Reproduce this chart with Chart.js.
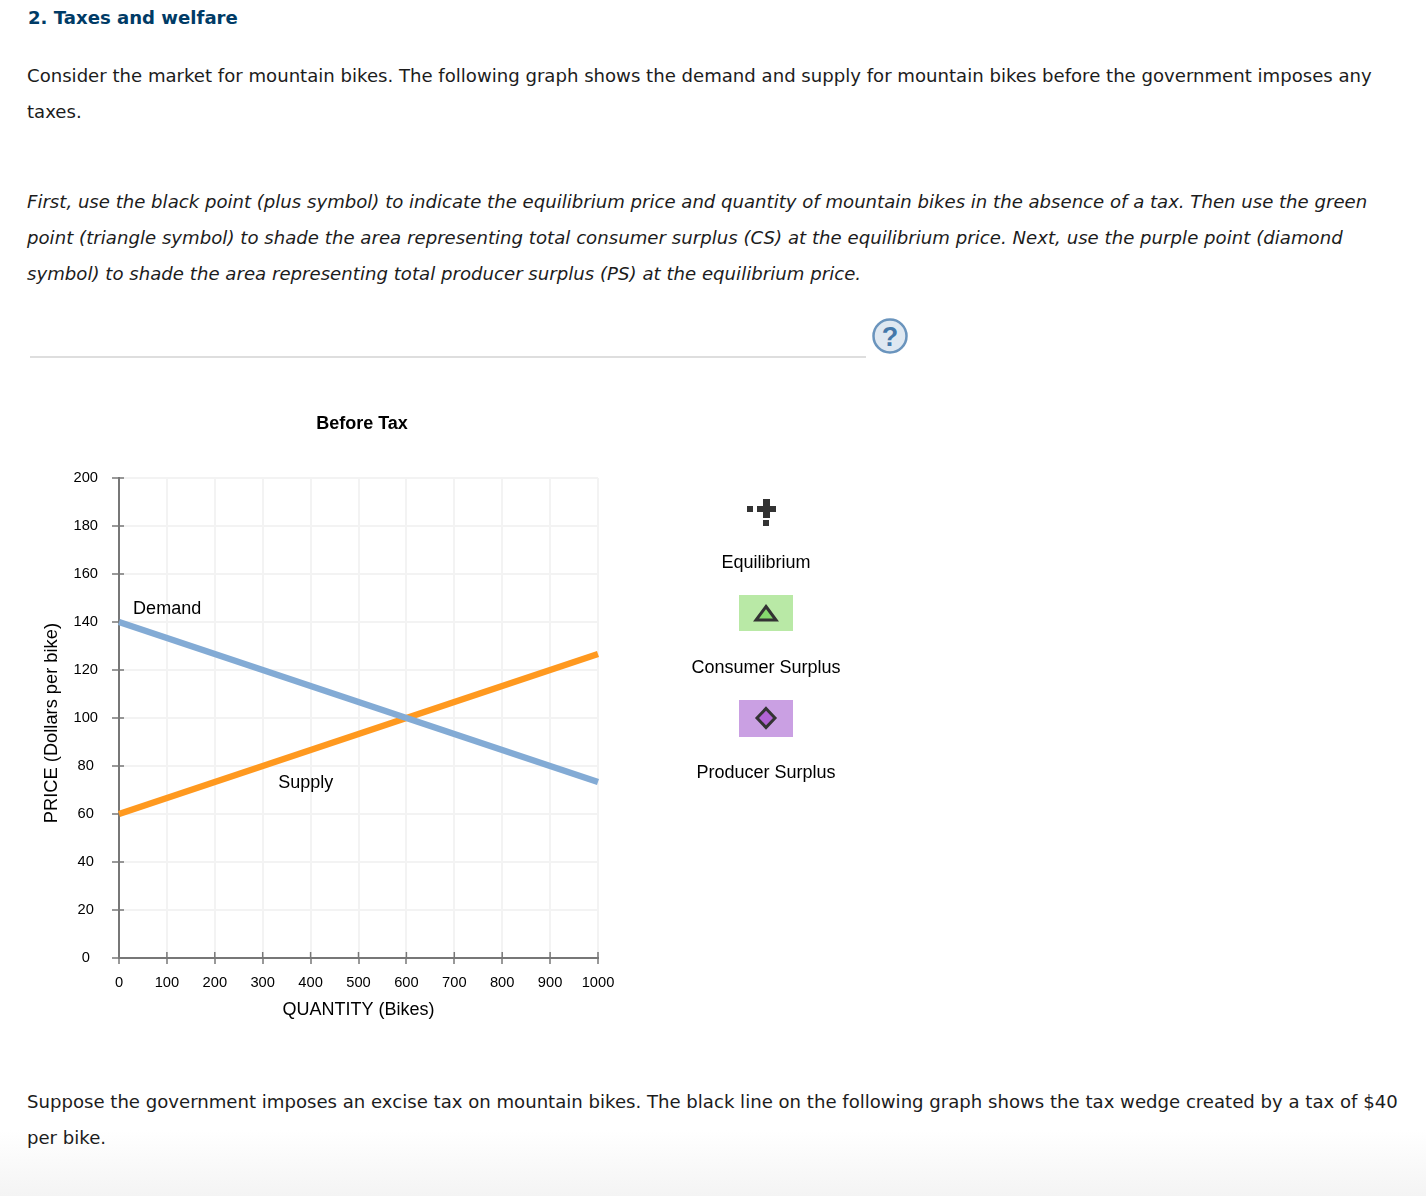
<!DOCTYPE html>
<html>
<head>
<meta charset="utf-8">
<title>Taxes and welfare</title>
<script src="https://cdn.jsdelivr.net/npm/chart.js@4"></script>
<style>
    html, body { margin: 0; padding: 0; background: #fff; }
    body { position: relative; width: 1426px; height: 1196px; overflow: hidden; }
    .fade { position: absolute; left: 0; top: 1130px; width: 1426px; height: 66px; background: linear-gradient(#fff, #f4f4f4); }
    .line { position: absolute; left: 27px; white-space: nowrap; font: 18.1px "DejaVu Sans", sans-serif; color: #1c1c1c; }
    .line.it { font-style: italic; }
    .head { position: absolute; left: 28px; top: 7px; font: bold 18.1px "DejaVu Sans", sans-serif; color: #003b66; white-space: nowrap; }
    .rule { position: absolute; left: 30px; top: 356px; width: 836px; height: 2px; background: #dedede; }
    .pal { position: absolute; left: 666px; width: 200px; text-align: center; font: 18px "Liberation Sans", sans-serif; color: #000; }
    svg { position: absolute; }
    #chartBox { position: absolute; left: 0; top: 400px; width: 724px; height: 640px; }
</style>
</head>
<body>
<div class="fade"></div>
<div class="head">2. Taxes and welfare</div>
<div class="line" style="top:65px">Consider the market for mountain bikes. The following graph shows the demand and supply for mountain bikes before the government imposes any</div>
<div class="line" style="top:101px">taxes.</div>
<div class="line it" style="top:191px">First, use the black point (plus symbol) to indicate the equilibrium price and quantity of mountain bikes in the absence of a tax. Then use the green</div>
<div class="line it" style="top:227px;letter-spacing:0.028px">point (triangle symbol) to shade the area representing total consumer surplus (CS) at the equilibrium price. Next, use the purple point (diamond</div>
<div class="line it" style="top:263px;letter-spacing:0.022px">symbol) to shade the area representing total producer surplus (PS) at the equilibrium price.</div>
<div class="rule"></div>
<svg style="left:870px;top:316px" width="40" height="40">
    <circle cx="20" cy="20" r="16.5" fill="#dfe8f1" stroke="#6a94bd" stroke-width="2.5"/>
    <text x="20" y="29.500" text-anchor="middle" font-family="Liberation Sans" font-weight="bold" font-size="27" fill="#4478aa">?</text>
</svg>

<div id="chartBox"><canvas id="marketChart"></canvas></div>

<svg style="left:739px;top:495px" width="54" height="245">
    <path d="M18 11h6v-7h7v7h6v6h-6v6h-7v-6h-6z" fill="#333"/>
    <rect x="8" y="11" width="6" height="6" fill="#333"/>
    <rect x="24" y="25" width="6" height="6" fill="#333"/>
    <rect x="0" y="100" width="54" height="36" fill="#b9e9a6"/>
    <path d="M27 111.500l10 13.500h-20z" fill="#86d96e" stroke="#333" stroke-width="3"/>
    <rect x="0" y="205" width="54" height="37" fill="#caa0e3"/>
    <path d="M27 213.500l9 9.500-9 9.500-9-9.500z" fill="#b063d4" stroke="#333" stroke-width="3"/>
</svg>
<div class="pal" style="top:552px">Equilibrium</div>
<div class="pal" style="top:657px">Consumer Surplus</div>
<div class="pal" style="top:762px">Producer Surplus</div>

<div class="line" style="top:1091px">Suppose the government imposes an excise tax on mountain bikes. The black line on the following graph shows the tax wedge created by a tax of $40</div>
<div class="line" style="top:1127px">per bike.</div>

<script>
const quantities = [0, 1000];
const demandPrices = [140, 73.33];
const supplyPrices = [60, 126.67];
const xTicks = [0, 100, 200, 300, 400, 500, 600, 700, 800, 900, 1000];
const yTicks = [0, 20, 40, 60, 80, 100, 120, 140, 160, 180, 200];
const curveNames = ['Demand', 'Supply'];
const curveLabelX = [100.5, 390];
const curveLabelY = [145.4, 73];

const axisFont = '"Liberation Sans", sans-serif';
const axisGray = '#777777';

function pairs(ys) {
    return quantities.map(function (q, i) { return { x: q, y: ys[i] }; });
}

// ticks also poke into the plot, chart.js only draws the outer part
const innerTicks = {
    id: 'innerTicks',
    beforeDatasetsDraw: function (chart) {
        const c = chart.ctx, x = chart.scales.x, y = chart.scales.y;
        c.save();
        c.strokeStyle = axisGray;
        c.lineWidth = 1.5;
        xTicks.forEach(function (t) {
            const px = x.getPixelForValue(t);
            c.beginPath(); c.moveTo(px, y.bottom - 6); c.lineTo(px, y.bottom); c.stroke();
        });
        yTicks.forEach(function (t) {
            const py = y.getPixelForValue(t);
            c.beginPath(); c.moveTo(x.left, py); c.lineTo(x.left + 5, py); c.stroke();
        });
        c.restore();
    }
};

const curveLabels = {
    id: 'curveLabels',
    afterDatasetsDraw: function (chart) {
        const c = chart.ctx;
        c.save();
        c.font = '18px ' + axisFont;
        c.fillStyle = '#000';
        c.textAlign = 'center';
        c.textBaseline = 'middle';
        curveNames.forEach(function (name, i) {
            c.fillText(name, chart.scales.x.getPixelForValue(curveLabelX[i]), chart.scales.y.getPixelForValue(curveLabelY[i]));
        });
        c.restore();
    }
};

new Chart(document.getElementById('marketChart'), {
    type: 'line',
    data: {
        datasets: [
            { label: 'Demand', data: pairs(demandPrices), borderColor: '#83abd5', borderWidth: 6.5, pointRadius: 0, clip: false, borderCapStyle: 'butt' },
            { label: 'Supply', data: pairs(supplyPrices), borderColor: '#ff991f', borderWidth: 6.5, pointRadius: 0, clip: false, borderCapStyle: 'butt' }
        ]
    },
    options: {
        responsive: true,
        maintainAspectRatio: false,
        animation: false,
        plugins: {
            legend: { display: false },
            tooltip: { enabled: false },
            title: {
                display: true,
                text: 'Before Tax',
                color: '#000',
                font: { family: axisFont, size: 18, weight: 'bold', lineHeight: 1.2 },
                padding: { top: 13, bottom: 43.4 }
            }
        },
        scales: {
            x: {
                type: 'linear',
                min: 0,
                max: 1000,
                afterBuildTicks: function (s) { s.ticks = xTicks.map(function (v) { return { value: v }; }); },
                afterFit: function (s) { s.height = 82; },
                ticks: { color: '#000', font: { family: axisFont, size: 14.7 }, padding: 10, maxRotation: 0, callback: function (v) { return String(v); } },
                grid: { color: '#f3f3f3', lineWidth: 2, tickColor: axisGray, tickWidth: 1.5, tickLength: 6 },
                border: { color: axisGray, width: 2 },
                title: { display: true, text: 'QUANTITY (Bikes)', color: '#000', font: { family: axisFont, size: 18 }, padding: { top: 0, bottom: 19 } }
            },
            y: {
                min: 0,
                max: 200,
                afterBuildTicks: function (s) { s.ticks = yTicks.map(function (v) { return { value: v }; }); },
                afterFit: function (s) { s.width = 119; },
                ticks: { color: '#000', font: { family: axisFont, size: 14.7 }, padding: 14, crossAlign: 'center', callback: function (v) { return String(v); } },
                grid: { color: '#f3f3f3', lineWidth: 2, tickColor: axisGray, tickWidth: 1.5, tickLength: 7 },
                border: { color: axisGray, width: 2 },
                // trailing spaces push the centred label down a little, as in the original
                title: { display: true, text: 'PRICE (Dollars per bike)  ', color: '#000', font: { family: axisFont, size: 18.3 }, padding: { top: 41, bottom: 0 } }
            },
            // empty right-hand axis, reserves the space so the title centres over the whole box
            spacer: {
                type: 'linear',
                position: 'right',
                afterFit: function (s) { s.width = 126; },
                ticks: { display: false },
                grid: { display: false },
                border: { display: false }
            }
        }
    },
    plugins: [innerTicks, curveLabels]
});
</script>
</body>
</html>
